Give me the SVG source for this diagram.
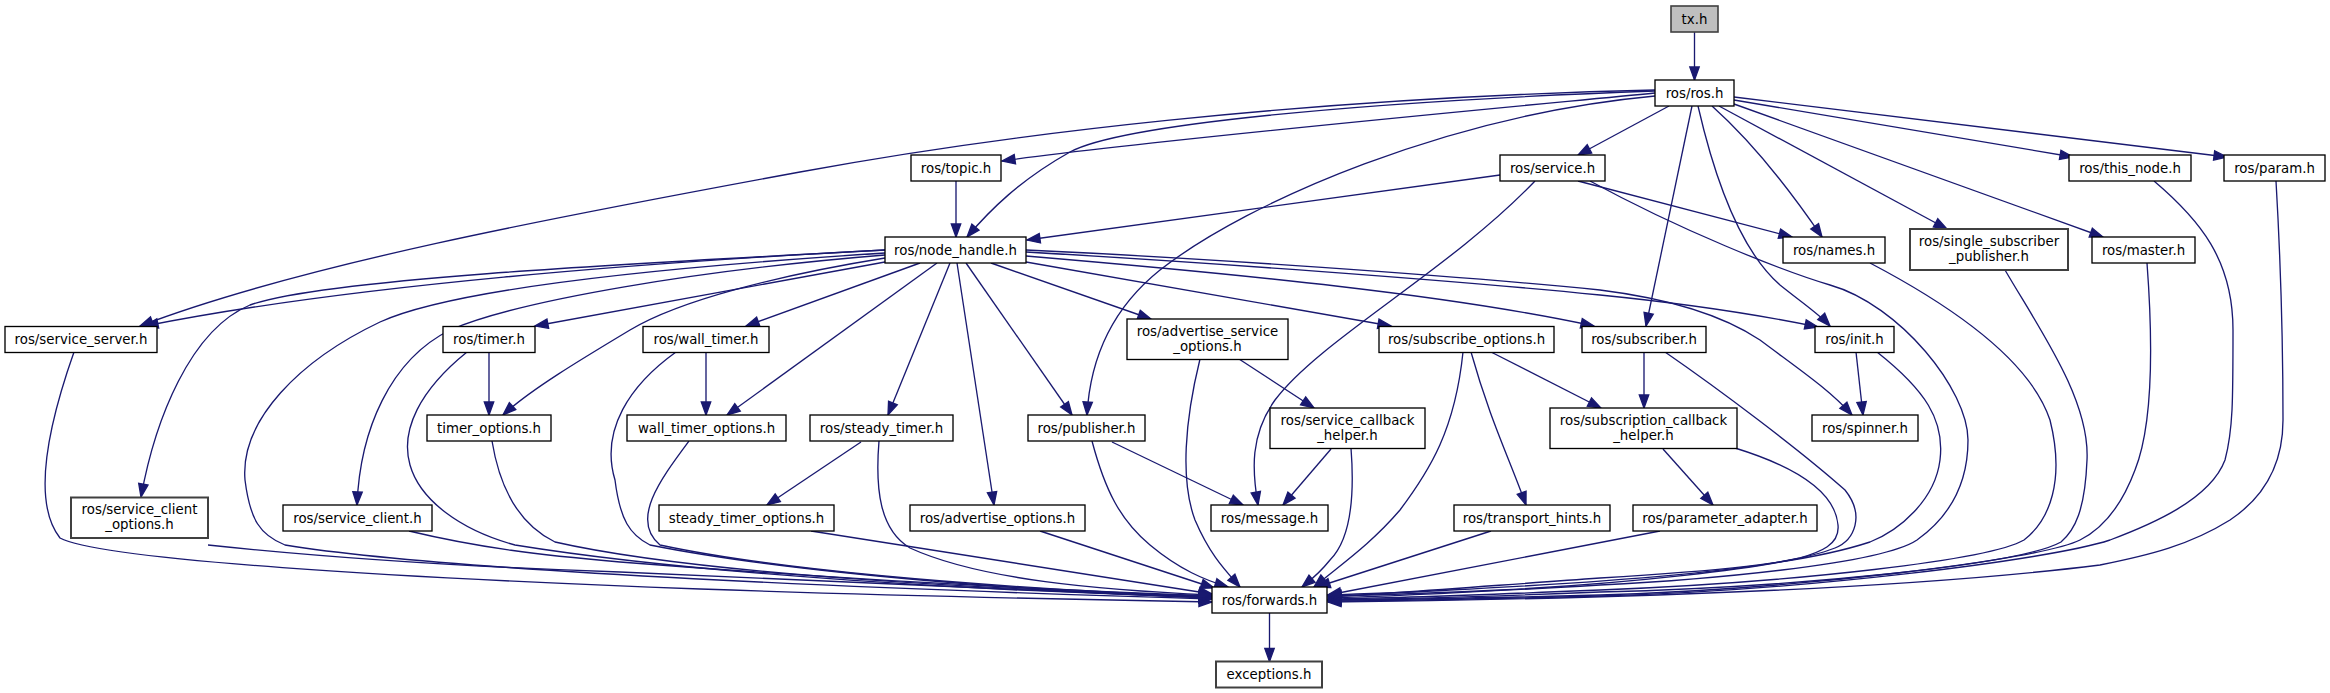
<svg xmlns="http://www.w3.org/2000/svg" width="2330" height="693" viewBox="0 0 2330 693">
<style>
.n rect{fill:#fff;stroke:#000;stroke-width:1.33}
.n.g rect{stroke:#404040;stroke-width:2}
.n.r rect{fill:#bfbfbf;stroke:#404040;stroke-width:1.6}
.n text{font-family:"DejaVu Sans","Liberation Sans",sans-serif;font-size:13.33px;text-anchor:middle;fill:#000}
.e path{fill:none;stroke:#191970;stroke-width:1.33;marker-end:url(#a)}
</style>
<defs>
<marker id="a" markerUnits="userSpaceOnUse" markerWidth="16" markerHeight="12" refX="14" refY="6" orient="auto" overflow="visible">
<path d="M1,1.3 L14,6 L1,10.7 z" fill="#191970" stroke="#191970" stroke-width="1.33"/>
</marker>
</defs>
<rect width="2330" height="693" fill="#fff"/>
<g class="e" id="edges">
<path d="M1694.5,32 L1694.5,80"/>
<path d="M1655,93 C1500,108 1150,140 1002,161"/>
<path d="M1655,91 C1350,102 1120,125 1070,152 C1020,180 990,210 967,237"/>
<path d="M1655,90 C1300,98 1000,135 800,172 C550,218 300,265 140,326"/>
<path d="M1655,96 C1450,115 1250,200 1160,270 C1110,310 1090,360 1087,415"/>
<path d="M1669,106 L1578,155"/>
<path d="M1712,106 C1750,140 1790,190 1822,237"/>
<path d="M1692,106 L1646,326"/>
<path d="M1698,106 C1715,180 1740,250 1780,285 C1805,305 1820,315 1830,326"/>
<path d="M1719,106 L1947,229"/>
<path d="M1734,104 L2103,237"/>
<path d="M1734,100 L2073,157"/>
<path d="M1734,97 L2227,157"/>
<path d="M956,181 L956,237"/>
<path d="M1500,175 L1027,240"/>
<path d="M1578,181 L1792,237"/>
<path d="M1535,181 C1450,270 1320,340 1275,400 C1250,435 1252,470 1258,505"/>
<path d="M1590,181 C1680,230 1780,270 1830,285 C1900,305 1968,390 1968,440 C1968,490 1945,520 1917,540 C1880,565 1700,580 1600,585 C1480,592 1400,596 1328,598"/>
<path d="M1877,352 C1925,390 1945,420 1940,460 C1935,500 1900,530 1870,542 C1800,565 1700,572 1600,578 C1500,585 1400,593 1328,597"/>
<path d="M1870,263 C1950,305 2030,360 2050,420 C2065,480 2050,520 2024,540 C1990,560 1800,582 1600,590 C1480,595 1400,598 1328,599"/>
<path d="M2005,270 C2040,330 2090,400 2087,460 C2085,510 2075,530 2061,542 C2020,565 1800,587 1600,592 C1480,597 1400,599 1328,600"/>
<path d="M2147,263 C2152,330 2155,420 2135,470 C2120,510 2100,530 2080,540 C2040,560 1800,589 1600,595 C1480,598 1400,600 1328,600"/>
<path d="M2154,181 C2200,220 2233,260 2233,330 C2233,400 2233,430 2225,460 C2210,500 2150,525 2110,540 C2050,560 1800,591 1600,596 C1480,599 1400,601 1328,601"/>
<path d="M2276,181 C2280,250 2283,330 2283,420 C2283,470 2260,500 2230,520 C2190,545 2150,555 2100,565 C1900,590 1600,599 1328,602"/>
<path d="M1665,352 C1720,390 1800,450 1845,490 C1865,515 1855,540 1835,548 C1780,570 1600,585 1500,590 C1420,594 1370,595 1328,596"/>
<path d="M1735,448 C1790,465 1835,490 1838,525 C1840,545 1820,552 1800,558 C1720,575 1550,585 1450,590 C1400,593 1360,594 1328,595"/>
<path d="M1660,531 L1328,595"/>
<path d="M1491,531 L1317,587"/>
<path d="M1463,352 C1455,430 1430,470 1400,510 C1370,545 1340,565 1314,587"/>
<path d="M1351,448 C1355,500 1350,540 1330,560 C1318,575 1308,582 1302,587"/>
<path d="M1200,359 C1185,420 1180,480 1195,520 C1210,555 1225,570 1240,587"/>
<path d="M1092,441 C1105,490 1120,520 1150,545 C1180,570 1205,580 1228,587"/>
<path d="M1112,442 L1243,505"/>
<path d="M1331,449 L1283,505"/>
<path d="M1239,359 L1314,408"/>
<path d="M1491,352 L1601,408"/>
<path d="M1471,352 C1490,420 1510,460 1526,505"/>
<path d="M1644,352 L1644,408"/>
<path d="M1663,449 L1713,505"/>
<path d="M1856,352 L1863,415"/>
<path d="M1026,250 C1200,258 1450,275 1600,290 C1680,300 1730,320 1760,340 C1800,370 1830,390 1852,415"/>
<path d="M1026,252 C1200,262 1450,280 1600,295 C1700,305 1760,315 1818,327"/>
<path d="M1026,256 C1250,275 1450,295 1594,326"/>
<path d="M1026,262 L1391,326"/>
<path d="M991,263 L1151,319"/>
<path d="M966,263 L1072,415"/>
<path d="M957,263 L994,505"/>
<path d="M950,263 L888,415"/>
<path d="M937,263 L727,415"/>
<path d="M920,263 L746,326"/>
<path d="M885,262 L535,326"/>
<path d="M885,258 C780,275 680,300 630,330 C580,360 530,390 503,415"/>
<path d="M885,250 C600,265 320,280 250,305 C190,330 155,420 141,497"/>
<path d="M885,253 C650,268 450,290 380,322 C300,360 240,420 245,480 C250,520 260,535 285,545 C450,572 900,590 1212,599"/>
<path d="M885,255 C700,270 520,300 450,330 C390,360 360,430 357,505"/>
<path d="M885,250 C650,262 350,285 145,326"/>
<path d="M74,352 C50,420 30,500 60,538 C100,560 400,578 700,589 C900,596 1100,600 1212,602"/>
<path d="M208,545 C350,560 500,568 620,572 C850,583 1050,592 1212,598"/>
<path d="M409,531 C480,548 540,555 620,562 C850,580 1050,590 1212,596"/>
<path d="M489,352 L489,415"/>
<path d="M706,352 L706,415"/>
<path d="M467,352 C420,390 400,430 410,465 C420,500 460,530 515,545 C700,575 1000,592 1212,597"/>
<path d="M492,441 C500,490 520,525 555,542 C700,575 1000,590 1212,596"/>
<path d="M676,352 C630,385 600,430 615,480 C620,520 630,535 650,545 C800,575 1050,592 1212,598"/>
<path d="M689,441 C660,480 630,520 660,545 C800,575 1050,590 1212,597"/>
<path d="M811,531 L1212,594"/>
<path d="M879,441 C875,490 880,530 910,548 C980,580 1100,590 1212,595"/>
<path d="M1040,531 L1214,588"/>
<path d="M861,442 L767,505"/>
<path d="M1269.5,613 L1269.5,661.5"/>
</g>
<g class="n r" id="tx"><rect x="1671" y="6" width="47" height="26"/><text x="1694.5" y="23.5">tx.h</text></g>
<g class="n" id="ros"><rect x="1655" y="80" width="79" height="26"/><text x="1694.5" y="97.5">ros/ros.h</text></g>
<g class="n" id="topic"><rect x="911" y="155" width="90" height="26"/><text x="956" y="172.5">ros/topic.h</text></g>
<g class="n" id="service"><rect x="1500" y="155" width="105" height="26"/><text x="1552.5" y="172.5">ros/service.h</text></g>
<g class="n" id="this_node"><rect x="2069" y="155" width="122" height="26"/><text x="2130" y="172.5">ros/this_node.h</text></g>
<g class="n" id="param"><rect x="2224" y="155" width="101" height="26"/><text x="2274.5" y="172.5">ros/param.h</text></g>
<g class="n" id="node_handle"><rect x="885" y="237" width="141" height="26"/><text x="955.5" y="254.5">ros/node_handle.h</text></g>
<g class="n" id="names"><rect x="1783" y="237" width="102" height="26"/><text x="1834" y="254.5">ros/names.h</text></g>
<g class="n g" id="single_subscriber_publisher"><rect x="1910" y="229" width="158" height="41"/><text x="1989" y="245.5">ros/single_subscriber</text><text x="1989" y="260.5">_publisher.h</text></g>
<g class="n" id="master"><rect x="2092" y="237" width="103" height="26"/><text x="2143.5" y="254.5">ros/master.h</text></g>
<g class="n" id="service_server"><rect x="5" y="326.5" width="152" height="26"/><text x="81" y="344">ros/service_server.h</text></g>
<g class="n" id="timer"><rect x="443" y="326.5" width="92" height="26"/><text x="489" y="344">ros/timer.h</text></g>
<g class="n" id="wall_timer"><rect x="643" y="326.5" width="126" height="26"/><text x="706" y="344">ros/wall_timer.h</text></g>
<g class="n" id="advertise_service_options"><rect x="1127" y="319" width="161" height="40.5"/><text x="1207.5" y="335.5">ros/advertise_service</text><text x="1207.5" y="350.5">_options.h</text></g>
<g class="n" id="subscribe_options"><rect x="1379" y="326.5" width="175" height="26"/><text x="1466.5" y="344">ros/subscribe_options.h</text></g>
<g class="n" id="subscriber"><rect x="1582" y="326.5" width="124" height="26"/><text x="1644" y="344">ros/subscriber.h</text></g>
<g class="n" id="init"><rect x="1815" y="326.5" width="79" height="26"/><text x="1854.5" y="344">ros/init.h</text></g>
<g class="n" id="timer_options"><rect x="427" y="415" width="124" height="26"/><text x="489" y="432.5">timer_options.h</text></g>
<g class="n" id="wall_timer_options"><rect x="627" y="415" width="159" height="26"/><text x="706.5" y="432.5">wall_timer_options.h</text></g>
<g class="n" id="steady_timer"><rect x="810" y="415" width="143" height="26"/><text x="881.5" y="432.5">ros/steady_timer.h</text></g>
<g class="n" id="publisher"><rect x="1028" y="415" width="117" height="26"/><text x="1086.5" y="432.5">ros/publisher.h</text></g>
<g class="n" id="service_callback_helper"><rect x="1270" y="408" width="155" height="40.5"/><text x="1347.5" y="424.5">ros/service_callback</text><text x="1347.5" y="439.5">_helper.h</text></g>
<g class="n" id="subscription_callback_helper"><rect x="1550" y="408" width="187" height="40.5"/><text x="1643.5" y="424.5">ros/subscription_callback</text><text x="1643.5" y="439.5">_helper.h</text></g>
<g class="n" id="spinner"><rect x="1812" y="415" width="106" height="26"/><text x="1865" y="432.5">ros/spinner.h</text></g>
<g class="n g" id="service_client_options"><rect x="71" y="497.5" width="137" height="40.5"/><text x="139.5" y="514">ros/service_client</text><text x="139.5" y="529">_options.h</text></g>
<g class="n" id="service_client"><rect x="283" y="505" width="149" height="26"/><text x="357.5" y="522.5">ros/service_client.h</text></g>
<g class="n" id="steady_timer_options"><rect x="659" y="505" width="175" height="26"/><text x="746.5" y="522.5">steady_timer_options.h</text></g>
<g class="n" id="advertise_options"><rect x="910" y="505" width="175" height="26"/><text x="997.5" y="522.5">ros/advertise_options.h</text></g>
<g class="n" id="message"><rect x="1211" y="505" width="117" height="26"/><text x="1269.5" y="522.5">ros/message.h</text></g>
<g class="n" id="transport_hints"><rect x="1454" y="505" width="156" height="26"/><text x="1532" y="522.5">ros/transport_hints.h</text></g>
<g class="n" id="parameter_adapter"><rect x="1633" y="505" width="184" height="26"/><text x="1725" y="522.5">ros/parameter_adapter.h</text></g>
<g class="n" id="forwards"><rect x="1212" y="587" width="115" height="26"/><text x="1269.5" y="604.5">ros/forwards.h</text></g>
<g class="n g" id="exceptions"><rect x="1216" y="661.5" width="106" height="26"/><text x="1269" y="679">exceptions.h</text></g>
</svg>
